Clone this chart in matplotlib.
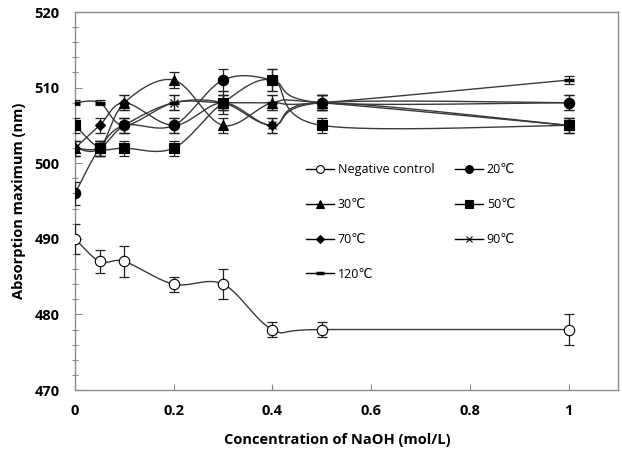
import numpy as np
import matplotlib
matplotlib.use("Agg")
import matplotlib.pyplot as plt
from matplotlib.lines import Line2D
from matplotlib.ticker import MultipleLocator

# ---- data ----
naoh = [0, 0.05, 0.1, 0.2, 0.3, 0.4, 0.5, 1]
labels = ["Negative control", "20℃", "30℃", "50℃", "70℃", "90℃", "120℃"]
neg = [490, 487, 487, 484, 484, 478, 478, 478]
neg_err = [2, 1.5, 2, 1, 2, 1, 1, 2]
t20 = [496, 502, 505, 505, 511, 511, 508, 508]
t20_err = [1.5, 1, 1, 1, 1.5, 1.5, 1, 1]
t30 = [502, 502, 508, 511, 505, 508, 508, 505]
t30_err = [1, 1, 1, 1, 1, 1, 1, 1]
t50 = [505, 502, 502, 502, 508, 511, 505, 505]
t50_err = [1, 1, 1, 1, 1.5, 1.5, 1, 1]
t70 = [502, 505, 508, 505, 508, 505, 508, 508]
t70_err = [1, 1, 1, 1, 1, 1, 1, 1]
t90 = [502, 502, 505, 508, 508, 505, 508, 505]
t90_err = [1, 1, 1, 1, 1, 1, 1, 1]
t120 = [508, 508, 505, 508, 508, 508, 508, 511]
t120_err = [0.3, 0.3, 1, 1, 1, 1, 1, 0.5]

series = [neg, t20, t30, t50, t70, t90, t120]
errors = [neg_err, t20_err, t30_err, t50_err, t70_err, t90_err, t120_err]
styles = [
    dict(marker="o", ms=7.5, mfc="white", mec="black", mew=0.8),
    dict(marker="o", ms=7.5, mfc="black", mec="black", mew=0.8),
    dict(marker="^", ms=7.5, mfc="black", mec="black", mew=0.8),
    dict(marker="s", ms=7.0, mfc="black", mec="black", mew=0.8),
    dict(marker="D", ms=5.0, mfc="black", mec="black", mew=0.8),
    dict(marker="x", ms=6.0, mfc="black", mec="black", mew=0.8),
    dict(marker="_", ms=7.0, mfc="black", mec="black", mew=2.5),
]


def excel_spline(xs, ys, n=40):
    P = np.column_stack([xs, ys]).astype(float)
    out = [P[0]]
    m = len(P)
    for i in range(m - 1):
        p0 = P[i - 1] if i > 0 else P[i]
        p1 = P[i]
        p2 = P[i + 1]
        p3 = P[i + 2] if i + 2 < m else P[i + 1]
        c1 = p1 + (p2 - p0) / 6.0
        c2 = p2 - (p3 - p1) / 6.0
        t = np.linspace(0, 1, n)[1:, None]
        seg = ((1 - t) ** 3) * p1 + 3 * ((1 - t) ** 2) * t * c1 + 3 * (1 - t) * t ** 2 * c2 + t ** 3 * p2
        out.extend(seg)
    out = np.array(out)
    return out[:, 0], out[:, 1]


plt.rcParams['font.family'] = ['Open Sans', 'DejaVu Sans']
fig = plt.figure(figsize=(6.22, 4.54), dpi=100)
ax = fig.add_axes([75 / 622, 1 - 390 / 454, 543 / 622, 378 / 454])

linecol = "#3a3a3a"
for ys, es, st in zip(series, errors, styles):
    sx, sy = excel_spline(naoh, ys)
    ax.plot(sx, sy, color=linecol, lw=1.0, zorder=2)
    ax.errorbar(naoh, ys, yerr=es, fmt="none", ecolor="#222222", elinewidth=0.9,
                capsize=3.5, capthick=0.9, zorder=3)
    ax.plot(naoh, ys, linestyle="none", zorder=4, **st)

bold = dict(family=['Open Sans', 'DejaVu Sans'], weight='bold', size=10.5)
ax.set_xlim(0, 1.1)
ax.set_ylim(470, 520)
ax.set_xticks([0, 0.2, 0.4, 0.6, 0.8, 1.0])
ax.set_xticklabels(["0", "0.2", "0.4", "0.6", "0.8", "1"], fontdict=bold)
ax.set_yticks([470, 480, 490, 500, 510, 520])
ax.set_yticklabels(["470", "480", "490", "500", "510", "520"], fontdict=bold)
ax.yaxis.set_minor_locator(MultipleLocator(2))
ax.tick_params(axis="x", direction="in", length=4, width=0.8, color="#888888", pad=10)
ax.tick_params(axis="y", which="major", direction="in", length=5, width=0.8, color="#888888",
               pad=11)
ax.tick_params(axis="y", which="minor", direction="inout", length=4, width=0.8, color="#888888")
for sp in ax.spines.values():
    sp.set_color("#8c8c8c")
    sp.set_linewidth(1.0)

ax.set_xlabel("Concentration of NaOH (mol/L)", fontdict=bold)
ax.xaxis.set_label_coords(0.484, -0.115)
ax.set_ylabel("Absorption maximum (nm)", fontdict=bold)
ax.yaxis.set_label_coords(-0.09, 0.5)

handles = []
for lab, st in zip(labels, styles):
    handles.append(Line2D([], [], color="black", lw=1.0, label=lab, **st))
order = [0, 2, 4, 6, 1, 3, 5]
leg = ax.legend([handles[i] for i in order], [labels[i] for i in order], ncol=2,
                loc="upper left", bbox_to_anchor=(0.426, 0.6), frameon=False,
                fontsize=9, labelspacing=1.75, columnspacing=1.7, handlelength=2.2,
                handletextpad=0.3, borderpad=0, borderaxespad=0, markerscale=0.75)

fig.savefig("out.png", dpi=100)
